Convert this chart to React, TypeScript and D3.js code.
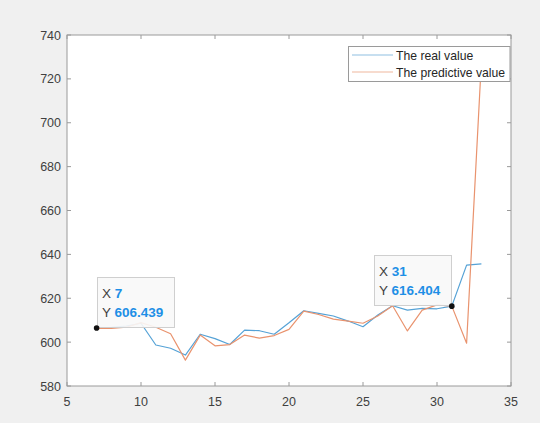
import React from "react";
import * as d3 from "d3";

const xs = [7, 8, 9, 10, 11, 12, 13, 14, 15, 16, 17, 18, 19, 20, 21, 22, 23, 24, 25, 26, 27, 28, 29, 30, 31, 32, 33];
const realValues = [606.439, 606.7, 607.3, 608.6, 598.7, 597.2, 594.1, 603.6, 601.6, 598.9, 605.5, 605.2, 603.6, 608.8, 614.3, 613.1, 611.9, 609.6, 607.0, 612.4, 616.6, 614.6, 615.4, 615.2, 616.404, 635.1, 635.7];
const predValues = [606.2, 606.3, 606.8, 608.9, 606.8, 603.8, 591.8, 603.2, 598.3, 598.9, 603.2, 601.8, 603.0, 605.8, 614.1, 612.6, 610.5, 609.6, 608.6, 611.9, 616.6, 605.1, 614.6, 617.0, 616.404, 599.5, 728.0];
const xTicks = [5, 10, 15, 20, 25, 30, 35];
const yTicks = [580, 600, 620, 640, 660, 680, 700, 720, 740];
const seriesNames = ["The real value", "The predictive value"];
const tips = [
  { x: 7, y: 606.439 },
  { x: 31, y: 616.404 },
];

const W = 540, H = 423;
const L = 67, R = 511, T = 35, B = 386;
const BLUE = "#55a2d6";
const ORANGE = "#e9936e";
const FONT = "'Liberation Sans', Arial, sans-serif";

export default function App() {
  const x = d3.scaleLinear().domain([5, 35]).range([L, R]);
  const y = d3.scaleLinear().domain([580, 740]).range([B, T]);
  const line = d3.line<number>().x((_, i) => x(xs[i])).y((d) => y(d));
  const tk = 4;
  const tipBoxes = [
    { bx: 97, by: 277, bw: 77, bh: 50 },
    { bx: 374, by: 255, bw: 77, bh: 50 },
  ];
  return (
    <div style={{ position: "fixed", left: 0, top: 0, width: W, height: H }}>
      <svg width={W} height={H} style={{ display: "block" }} fontFamily={FONT}>
        <rect x={0} y={0} width={W} height={H} fill="#f0f0f0" />
        <defs>
          <clipPath id="plotclip">
            <rect x={L} y={T} width={R - L} height={B - T} />
          </clipPath>
        </defs>
        <rect x={L} y={T} width={R - L} height={B - T} fill="#ffffff" />
        <g clipPath="url(#plotclip)" fill="none" strokeWidth={1.2} strokeLinejoin="round">
          <path d={line(realValues) || ""} stroke={BLUE} />
          <path d={line(predValues) || ""} stroke={ORANGE} />
        </g>
        <rect x={L} y={T} width={R - L} height={B - T} fill="none" stroke="#9a9a9a" strokeWidth={1} />
        {xTicks.map((t) => (
          <g key={"xt" + t}>
            <line x1={x(t)} x2={x(t)} y1={B} y2={B - tk} stroke="#9a9a9a" />
            <line x1={x(t)} x2={x(t)} y1={T} y2={T + tk} stroke="#9a9a9a" />
            <text x={x(t)} y={B + 20} textAnchor="middle" fontSize={12.5} fill="#404040">{t}</text>
          </g>
        ))}
        {yTicks.map((t) => (
          <g key={"yt" + t}>
            <line x1={L} x2={L + tk} y1={y(t)} y2={y(t)} stroke="#9a9a9a" />
            <line x1={R} x2={R - tk} y1={y(t)} y2={y(t)} stroke="#9a9a9a" />
            <text x={L - 6} y={y(t) + 4.5} textAnchor="end" fontSize={12.5} fill="#404040">{t}</text>
          </g>
        ))}
        <rect x={348.5} y={46.5} width={161.5} height={35} fill="#ffffff" stroke="#9a9a9a" />
        {seriesNames.map((n, i) => (
          <g key={n}>
            <line x1={352} x2={393} y1={55 + i * 17} y2={55 + i * 17} stroke={i === 0 ? "#8fc0e2" : "#f0b79d"} strokeWidth={1.2} />
            <text x={396} y={59.5 + i * 17} fontSize={12.2} fill="#262626">{n}</text>
          </g>
        ))}
        {tips.map((tp, i) => {
          const b = tipBoxes[i];
          return (
            <g key={"tip" + i}>
              <rect x={b.bx + 0.5} y={b.by + 0.5} width={b.bw} height={b.bh} fill="#f8f8f8" fillOpacity={0.9} stroke="#cfcfcf" />
              <text x={b.bx + 5} y={b.by + 21} fontSize={13.5} fill="#404040">
                X <tspan fill="#1e8fe6" fontWeight="bold">{tp.x}</tspan>
              </text>
              <text x={b.bx + 5} y={b.by + 39.5} fontSize={13.5} fill="#404040">
                Y <tspan fill="#1e8fe6" fontWeight="bold">{tp.y.toFixed(3)}</tspan>
              </text>
              <circle cx={x(tp.x)} cy={y(tp.y)} r={2.8} fill="#111" />
            </g>
          );
        })}
      </svg>
    </div>
  );
}
